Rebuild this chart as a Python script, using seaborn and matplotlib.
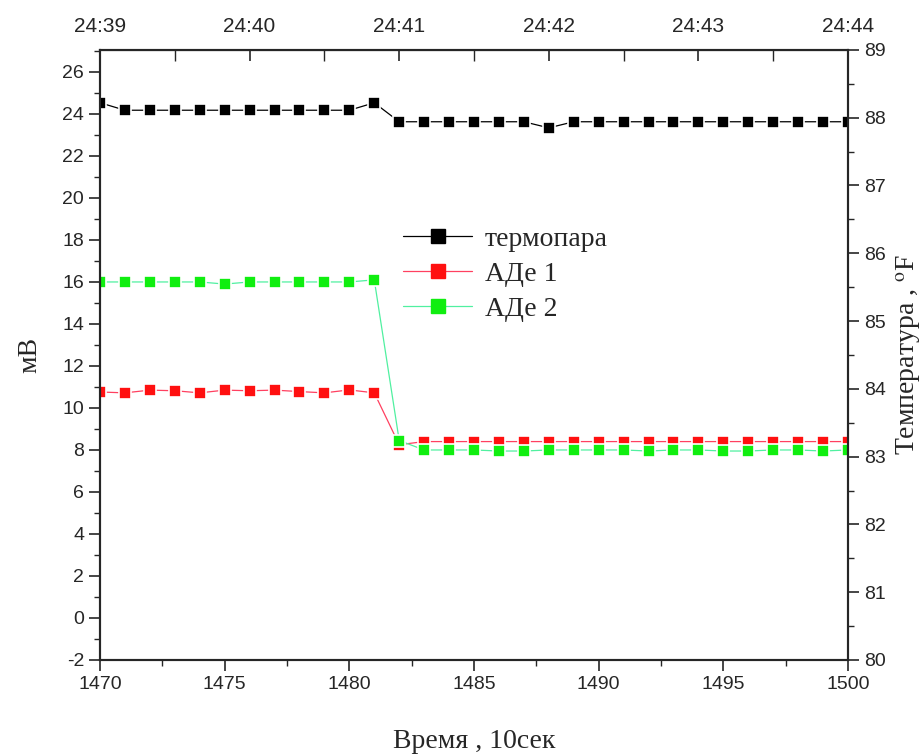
import numpy as np
import pandas as pd
import matplotlib
matplotlib.use("Agg")
import matplotlib.pyplot as plt
from matplotlib.ticker import MultipleLocator
from matplotlib.lines import Line2D
import seaborn as sns

# ---- data ----
time = list(range(1470, 1501))
thermo_F = [88.22] + [88.11] * 10 + [88.22] + [87.94] * 6 + [87.85] + [87.94] * 12
ade1_mV = [10.76, 10.72, 10.85, 10.82, 10.72, 10.85, 10.82, 10.85, 10.78, 10.72, 10.86, 10.72,
           8.25] + [8.40] * 18
ade2_mV = [16.0, 16.0, 16.0, 16.0, 16.0, 15.9, 16.0, 16.0, 16.0, 16.0, 16.0, 16.1,
           8.45, 8.0, 8.0, 8.0, 7.95, 7.95, 8.0, 8.0, 8.0, 8.0, 7.95, 8.0, 8.0, 7.95, 7.95,
           8.0, 8.0, 7.95, 8.0]
top_ticks = [1470, 1476, 1482, 1488, 1494, 1500]
top_labels = ["24:39", "24:40", "24:41", "24:42", "24:43", "24:44"]
series_names = ["термопара", "АДе 1", "АДе 2"]

sns.set_style("ticks")
plt.rcParams["font.family"] = ["Liberation Sans", "DejaVu Sans"]
plt.rcParams["mathtext.fontset"] = "stix"
plt.rcParams["axes.unicode_minus"] = False

fig = plt.figure(figsize=(9.22, 7.56), dpi=100)
ax = fig.add_axes([0.1085, 0.127, 0.8112, 0.807])
ax2 = ax.twinx()

df = pd.DataFrame({"t": time, "th": thermo_F, "a1": ade1_mV, "a2": ade2_mV})

mk = dict(marker="s", markersize=8, markeredgecolor="white", markeredgewidth=1.2)
sns.lineplot(data=df, x="t", y="a1", ax=ax, color="#ff2020", linewidth=0.9, legend=False, **mk)
sns.lineplot(data=df, x="t", y="a2", ax=ax, color="#10ee10", linewidth=0.9, legend=False, **mk)
sns.lineplot(data=df, x="t", y="th", ax=ax2, color="black", linewidth=0.9, legend=False, **mk)
ax.lines[1].set_color("#50f0a0")
ax.lines[1].set_markerfacecolor("#10ee10")
ax.lines[0].set_color("#ff4060")
ax.lines[0].set_markerfacecolor("#ff1010")

ax.set_xlim(1470, 1500)
ax.set_ylim(-2, 27.05)
ax2.set_ylim(80, 89)

ax.xaxis.set_major_locator(MultipleLocator(5))
ax.xaxis.set_minor_locator(MultipleLocator(2.5))
ax.yaxis.set_major_locator(MultipleLocator(2))
ax.yaxis.set_minor_locator(MultipleLocator(1))
ax2.yaxis.set_major_locator(MultipleLocator(1))
ax2.yaxis.set_minor_locator(MultipleLocator(0.5))

for a in (ax, ax2):
    a.tick_params(which="major", length=8, width=1.2, labelsize=14, direction="out")
    a.tick_params(which="minor", length=4, width=1.0, direction="out")
    for s in a.spines.values():
        s.set_linewidth(1.5)
        s.set_visible(True)

top = ax.secondary_xaxis("top")
top.set_xticks(top_ticks)
top.set_xticklabels(top_labels)
top.xaxis.set_minor_locator(MultipleLocator(3))
top.tick_params(which="major", length=8, width=1.2, labelsize=15, direction="in", pad=10)
top.tick_params(which="minor", length=8, width=1.0, direction="in")

serif = ["Liberation Serif", "DejaVu Serif"]
ax.set_xlabel("Время , 10сек", fontsize=20, family=serif, labelpad=26)
ax.set_ylabel("мВ", fontsize=20, family=serif, labelpad=14)
ax2.set_ylabel("Температура , $^{\\mathrm{o}}$F", fontsize=20, family=serif, labelpad=6)

handles = [
    Line2D([], [], color="black", lw=0.9, marker="s", markersize=10, markerfacecolor="black", markeredgecolor="black"),
    Line2D([], [], color="#ff4060", lw=0.9, marker="s", markersize=10, markerfacecolor="#ff1010", markeredgecolor="#ff1010"),
    Line2D([], [], color="#50f0a0", lw=0.9, marker="s", markersize=10, markerfacecolor="#10ee10", markeredgecolor="#10ee10"),
]
leg = ax2.legend(handles, series_names, loc="upper left", bbox_to_anchor=(0.39, 0.729),
                 frameon=False, prop={"family": serif, "size": 20}, handlelength=2.5,
                 handletextpad=0.45, labelspacing=0.34, borderaxespad=0)

fig.savefig("out.png", dpi=100)
